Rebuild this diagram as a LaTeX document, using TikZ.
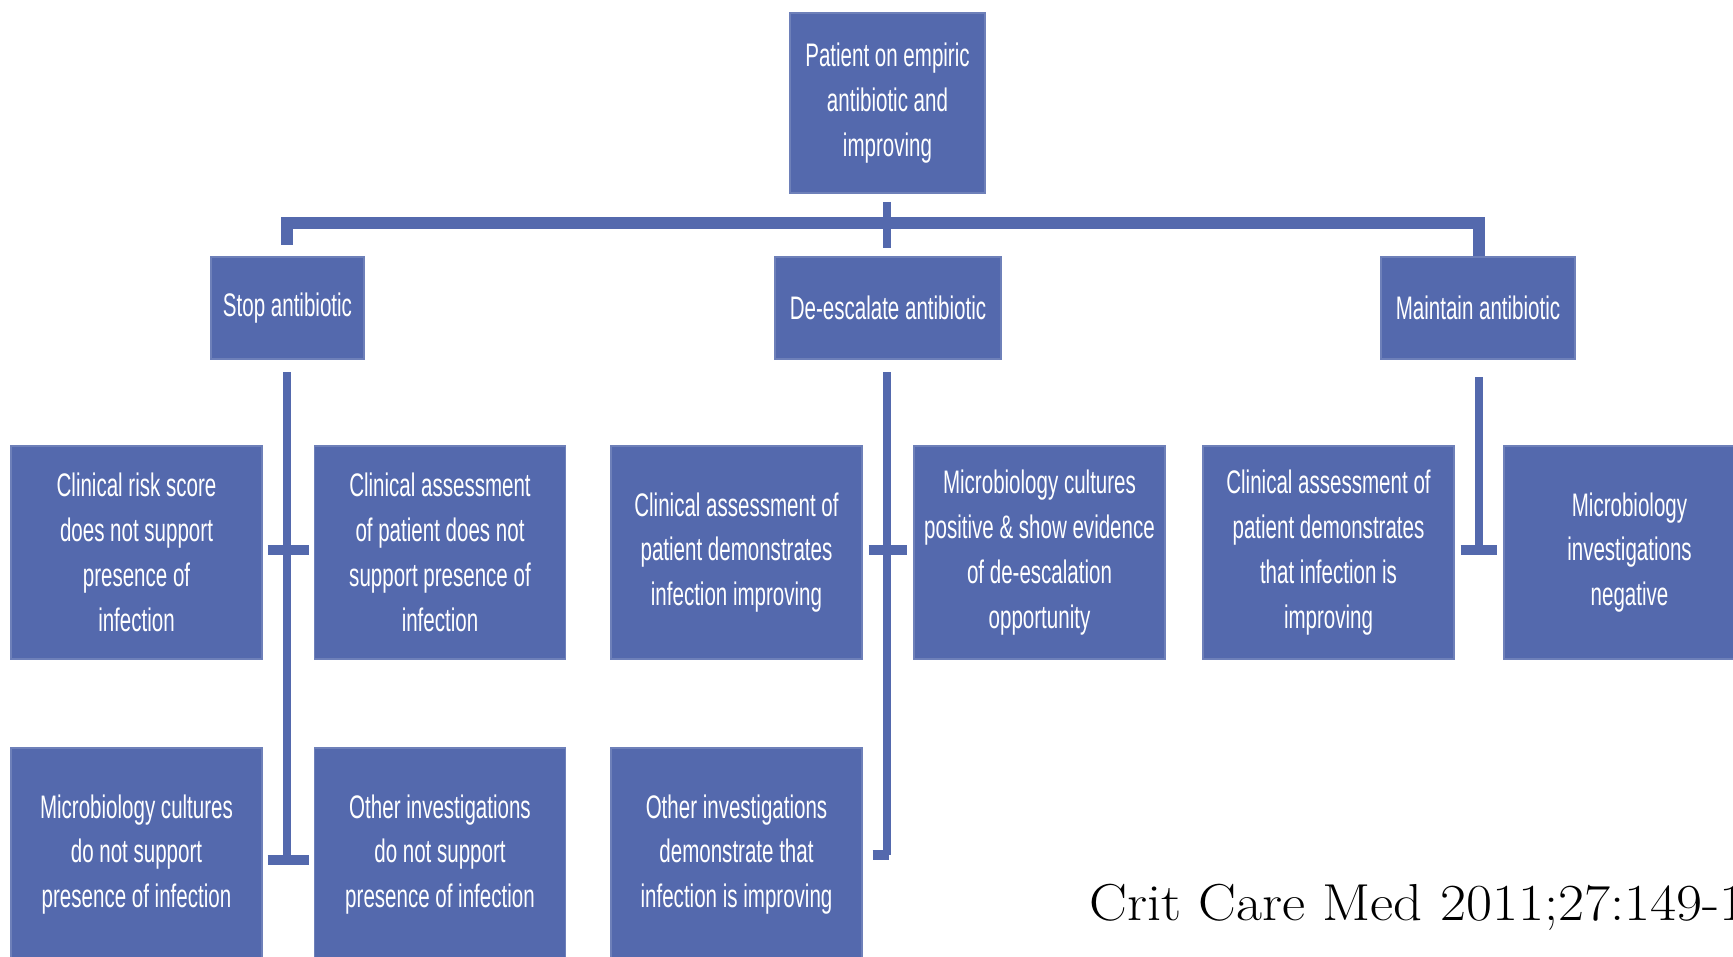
\documentclass[tikz,border=0pt]{standalone}
\usepackage{fontspec}
\newfontfamily\boxfont{Liberation Sans}[FakeStretch=0.63]
\newfontfamily\citefont{Latin Modern Roman}[FakeStretch=1.09]
\definecolor{flowblue}{HTML}{5469AD}
\tikzset{
  box/.style={fill=flowblue, draw=flowblue!85!white, line width=0.6pt,
    text=white, align=center, inner sep=0pt,
    font=\boxfont\fontsize{16.3}{22.4}\selectfont},
  rootbox/.style={box, minimum width=97.5pt, minimum height=90pt},
  choicebox/.style={box, minimum height=51pt},
  reasonbox/.style={box, minimum width=125.5pt, minimum height=106.5pt},
  trunk/.style={draw=flowblue, line width=4pt},
  tick/.style={draw=flowblue, line width=5pt},
  bar/.style={draw=flowblue, line width=6pt, line join=miter},
}
\begin{document}
\begin{tikzpicture}[x=0.5pt, y=-0.5pt]
\useasboundingbox (0,0) rectangle (1733,957);
\clip (0,0) rectangle (1733,957);

% decision at the top
\node[rootbox] (root) at (887.5,103) {Patient on empiric\\antibiotic and\\improving};

% the three options
\node[choicebox, minimum width=76.5pt] (stop) at (287.5,308) {Stop antibiotic};
\node[choicebox, minimum width=113pt] (desc) at (888,308) {De-escalate antibiotic};
\node[choicebox, minimum width=97pt] (maint) at (1478,308) {Maintain antibiotic};

% first row of criteria
\node[reasonbox] (riskscore) at (136.5,552.5) {Clinical risk score\\does not support\\presence of\\infection};
\node[reasonbox] (assessnot) at (440,552.5) {Clinical assessment\\of patient does not\\support presence of\\infection};
\node[reasonbox] (assessimp) at (736.5,552.5) {Clinical assessment of\\patient demonstrates\\infection improving};
\node[reasonbox] (micropos) at (1039.5,552.5) {Microbiology cultures\\positive \& show evidence\\of de-escalation\\opportunity};
\node[reasonbox] (assessthat) at (1328.5,552.5) {Clinical assessment of\\patient demonstrates\\that infection is\\improving};
\node[reasonbox] (microneg) at (1629.5,552.5) {Microbiology\\investigations\\negative};

% second row of criteria
\node[reasonbox] (micronot) at (136.5,854.5) {Microbiology cultures\\do not support\\presence of infection};
\node[reasonbox] (othernot) at (440,854.5) {Other investigations\\do not support\\presence of infection};
\node[reasonbox] (otherimp) at (736.5,854.5) {Other investigations\\demonstrate that\\infection is improving};

% reference
\node[anchor=base west, inner sep=0pt, font=\citefont\fontsize{26}{30}\selectfont] (cite) at (1089,920) {Crit Care Med 2011;27:149-1};

% junction points of the connectors
\coordinate (rootStubTop) at (887,202);
\coordinate (rootStubEnd) at (887,248);
\coordinate (barLeftEnd) at (287,245);
\coordinate (barLeft) at (287,223);
\coordinate (barRight) at (1479,223);
\coordinate (barRightEnd) at (1479,256);

\coordinate (stopTop) at (287,372);
\coordinate (stopBottom) at (287,860);
\coordinate (descTop) at (887,372);
\coordinate (descBottom) at (887,855);
\coordinate (maintTop) at (1479,377);
\coordinate (maintBottom) at (1479,550);

% connectors from the top decision
\draw[bar] (barLeftEnd) -- (barLeft) -- (barRight) -- (barRightEnd);
\draw[trunk] (rootStubTop) -- (rootStubEnd);

% stop antibiotic branch
\draw[trunk] (stopTop) -- (stopBottom);
\draw[tick] ([xshift=5*0.5pt]riskscore.east |- 0,550) -- ([xshift=-5*0.5pt]assessnot.west |- 0,550);
\draw[tick] ([xshift=5*0.5pt]micronot.east |- stopBottom) -- ([xshift=-5*0.5pt]othernot.west |- stopBottom);

% de-escalate branch
\draw[trunk] (descTop) -- (descBottom);
\draw[tick] ([xshift=6*0.5pt]assessimp.east |- 0,550) -- ([xshift=-6*0.5pt]micropos.west |- 0,550);
\draw[tick] ([xshift=10*0.5pt]otherimp.east |- descBottom) -- ([xshift=2*0.5pt]descBottom);

% maintain branch
\draw[trunk] (maintTop) -- (maintBottom);
\draw[tick] ([xshift=6*0.5pt]assessthat.east |- maintBottom) -- ([xshift=-6*0.5pt]microneg.west |- maintBottom);
\end{tikzpicture}
\end{document}
